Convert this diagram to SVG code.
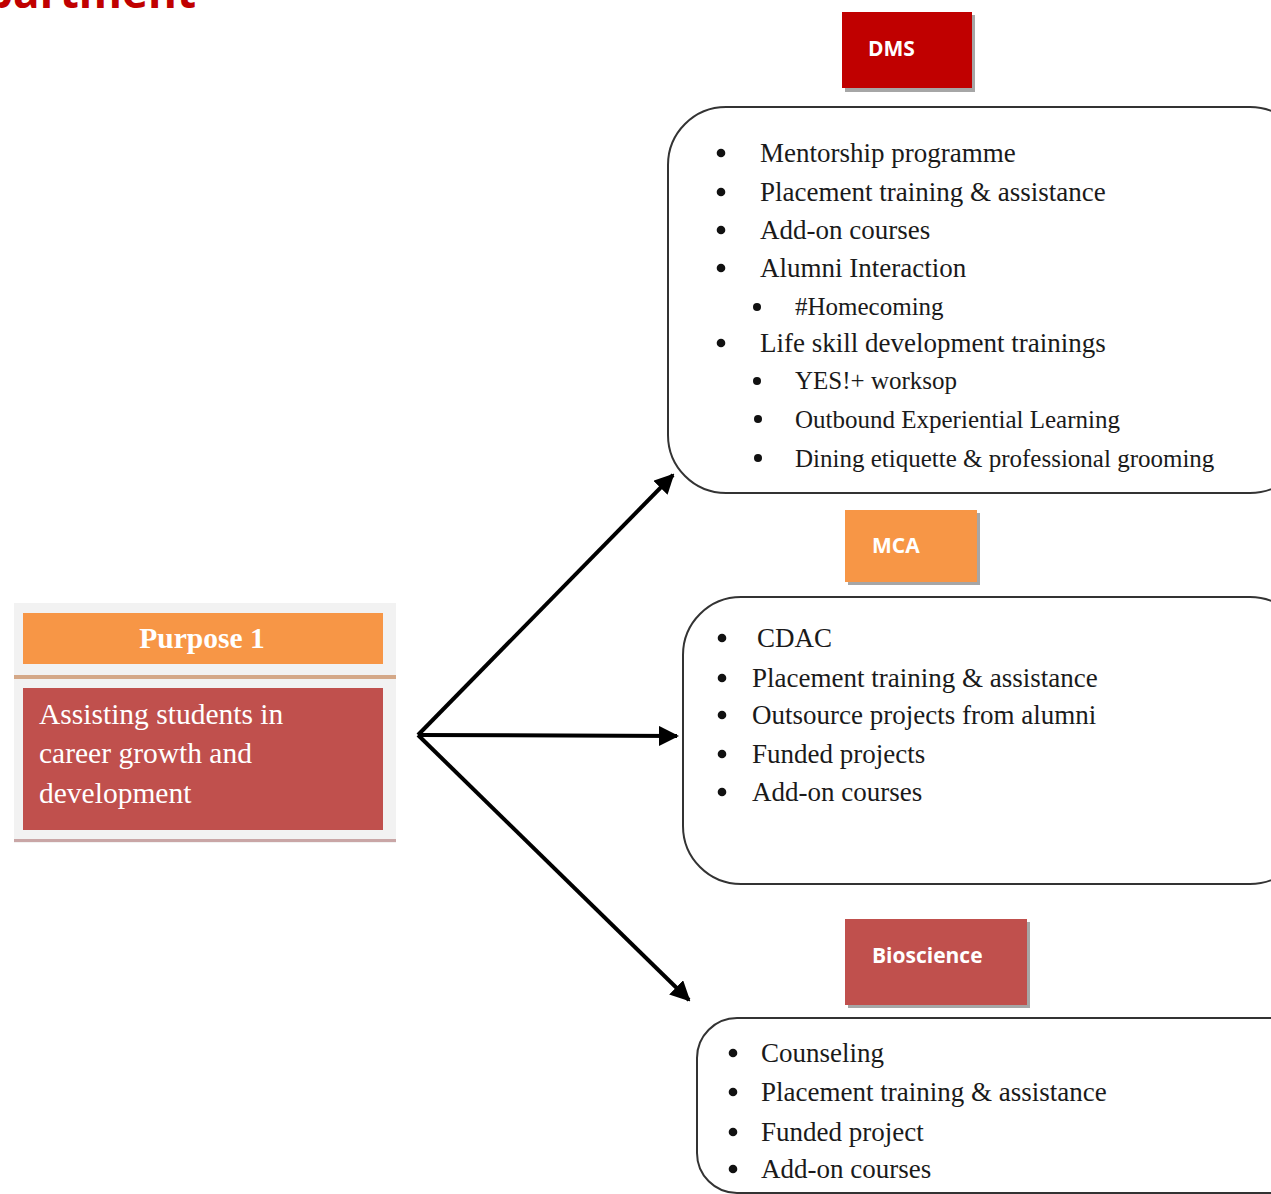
<svg xmlns="http://www.w3.org/2000/svg" width="1271" height="1194" viewBox="0 0 1271 1194">
<defs>
<style>
.lbl{font-family:"Open Sans","Noto Sans",sans-serif;font-weight:700;font-size:21px;fill:#ffffff}
.item{font-family:"Liberation Serif","Times New Roman",serif;font-size:27px;fill:#1a1a1a}
.sub{font-family:"Liberation Serif","Times New Roman",serif;font-size:25px;fill:#1a1a1a}
.box{fill:#ffffff;stroke:#333333;stroke-width:2}
.shadow{fill:#a6a6a6}
.conn{stroke:#000000;stroke-width:4;fill:none}
.wt{font-family:"Liberation Serif","Times New Roman",serif;font-size:29.5px;fill:#ffffff}
.b{fill:#111111}
</style>
<marker id="ah" viewBox="0 0 10 10" refX="9" refY="5" markerWidth="5" markerHeight="5" orient="auto" markerUnits="strokeWidth">
<path d="M0,0 L10,5 L0,10 Z" fill="#000000"/>
</marker>
<clipPath id="topclip"><rect x="0" y="0" width="300" height="13"/></clipPath>
</defs>
<rect width="1271" height="1194" fill="#ffffff"/>

<g id="heading" clip-path="url(#topclip)">
<text x="196" y="8" text-anchor="end" font-family="'Open Sans','Noto Sans',sans-serif" font-weight="700" font-size="44" fill="#c00000">Department</text>
</g>

<g id="connectors">
<line class="conn" x1="418" y1="735" x2="673" y2="475" marker-end="url(#ah)"/>
<line class="conn" x1="418" y1="735" x2="677" y2="736" marker-end="url(#ah)"/>
<line class="conn" x1="418" y1="735" x2="689" y2="1000" marker-end="url(#ah)"/>
</g>

<g id="purpose">
<rect x="14" y="603" width="382" height="240" fill="#f2f2f2"/>
<rect x="23" y="613" width="360" height="51" fill="#f79646"/>
<rect x="14" y="675" width="382" height="4" fill="#d4a888"/>
<rect x="23" y="688" width="360" height="142" fill="#c0504d"/>
<rect x="14" y="839" width="382" height="3" fill="#c9a6a6"/>
<text class="wt" x="202" y="648" text-anchor="middle" font-weight="700">Purpose 1</text>
<text class="wt" x="39" y="724">Assisting students in</text>
<text class="wt" x="39" y="763">career growth and</text>
<text class="wt" x="39" y="803">development</text>
</g>

<g id="dms-label">
<rect class="shadow" x="845" y="15" width="130" height="77"/>
<rect x="842" y="12" width="130" height="76" fill="#c00000"/>
<text class="lbl" x="868" y="56">DMS</text>
</g>

<g id="dms-box">
<rect class="box" x="668" y="107" width="640" height="386" rx="58" ry="58"/>
<g class="b">
<circle cx="721" cy="153" r="4.3"/><circle cx="721" cy="192" r="4.3"/><circle cx="721" cy="230" r="4.3"/>
<circle cx="721" cy="268" r="4.3"/><circle cx="721" cy="343" r="4.3"/>
<circle cx="757" cy="307" r="4"/><circle cx="757" cy="381" r="4"/><circle cx="758" cy="419" r="4"/><circle cx="758" cy="458" r="4"/>
</g>
<g class="item">
<text x="760" y="162">Mentorship programme</text>
<text x="760" y="201">Placement training &amp; assistance</text>
<text x="760" y="239">Add-on courses</text>
<text x="760" y="277">Alumni Interaction</text>
<text x="760" y="352">Life skill development trainings</text>
</g>
<g class="sub">
<text x="795" y="315">#Homecoming</text>
<text x="795" y="389">YES!+ worksop</text>
<text x="795" y="428">Outbound Experiential Learning</text>
<text x="795" y="467">Dining etiquette &amp; professional grooming</text>
</g>
</g>

<g id="mca-label">
<rect class="shadow" x="848" y="513" width="132" height="72"/>
<rect x="845" y="510" width="132" height="72" fill="#f79646"/>
<text class="lbl" x="872" y="553">MCA</text>
</g>

<g id="mca-box">
<rect class="box" x="683" y="597" width="625" height="287" rx="58" ry="58"/>
<g class="b">
<circle cx="722" cy="638" r="4.3"/><circle cx="722" cy="678" r="4.3"/><circle cx="722" cy="715" r="4.3"/>
<circle cx="722" cy="754" r="4.3"/><circle cx="722" cy="792" r="4.3"/>
</g>
<g class="item">
<text x="757" y="647">CDAC</text>
<text x="752" y="687">Placement training &amp; assistance</text>
<text x="752" y="724">Outsource projects from alumni</text>
<text x="752" y="763">Funded projects</text>
<text x="752" y="801">Add-on courses</text>
</g>
</g>

<g id="bio-label">
<rect class="shadow" x="848" y="922" width="182" height="86"/>
<rect x="845" y="919" width="182" height="86" fill="#c0504d"/>
<text class="lbl" x="872" y="963">Bioscience</text>
</g>

<g id="bio-box">
<rect class="box" x="697" y="1018" width="611" height="175" rx="40" ry="40"/>
<g class="b">
<circle cx="733" cy="1053" r="4.3"/><circle cx="733" cy="1092" r="4.3"/><circle cx="733" cy="1132" r="4.3"/><circle cx="733" cy="1169" r="4.3"/>
</g>
<g class="item">
<text x="761" y="1062">Counseling</text>
<text x="761" y="1101">Placement training &amp; assistance</text>
<text x="761" y="1141">Funded project</text>
<text x="761" y="1178">Add-on courses</text>
</g>
</g>
</svg>
